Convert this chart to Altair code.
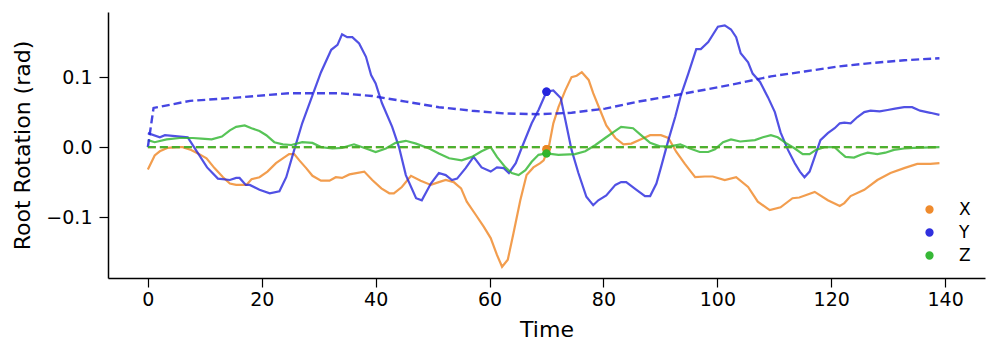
import altair as alt
import pandas as pd

# ---- data ----
series_names = ["X", "Y", "Z"]
series_colors = ["#ef8522", "#2525dd", "#2db52d"]

x_t = [0, 1.2, 2.1, 3.5, 5, 6.1, 7.6, 8.8, 10.3, 11.7, 13.2, 14.4, 15.5, 17.3, 18.2, 19.6, 21, 22.5, 23.7, 24.8,
       25.7, 26.6, 27.8, 28.9, 30.4, 31.9, 33, 34.1, 35.4, 38, 39.4, 41, 42.4, 43.2, 44.6, 46.2, 47.9, 49.7, 51.1,
       52.3, 53.7, 55, 56, 57.6, 59, 60.2, 61.3, 62.2, 63.2, 64.2, 65.4, 66.5, 67.7, 68.9, 69.5, 70.4, 71.2, 72.1,
       73.3, 74.4, 75.3, 76.2, 77.4, 78.2, 79.4, 80.5, 82.1, 83.5, 84.9, 86.5, 88.2, 90.1, 91.4, 92.8, 94.3, 96.1,
       97.8, 99.2, 101.3, 103.3, 105.4, 107.1, 109.2, 111.1, 113.2, 114.4, 117.1, 119.4, 121.5, 122.3, 123.4,
       125.8, 128.1, 130.4, 132.8, 135.1, 137.4, 139]
x_v = [-0.032, -0.012, -0.006, -0.001, 0.000, 0.000, -0.004, -0.009, -0.016, -0.030, -0.043, -0.052, -0.054,
       -0.054, -0.046, -0.043, -0.035, -0.023, -0.016, -0.010, -0.010, -0.019, -0.030, -0.041, -0.048, -0.048,
       -0.043, -0.044, -0.039, -0.035, -0.047, -0.059, -0.066, -0.066, -0.057, -0.041, -0.048, -0.054, -0.050,
       -0.047, -0.050, -0.059, -0.078, -0.097, -0.114, -0.130, -0.154, -0.171, -0.161, -0.123, -0.076, -0.040,
       -0.029, -0.023, -0.019, 0.000, 0.034, 0.057, 0.081, 0.100, 0.102, 0.107, 0.096, 0.077, 0.053, 0.031, 0.013,
       0.004, 0.005, 0.011, 0.017, 0.017, 0.013, -0.007, -0.024, -0.043, -0.042, -0.042, -0.047, -0.043, -0.057,
       -0.078, -0.090, -0.086, -0.073, -0.072, -0.064, -0.076, -0.084, -0.080, -0.070, -0.061, -0.047, -0.037,
       -0.030, -0.024, -0.024, -0.023]

y_t = [0, 2.1, 3, 7, 10.4, 12.3, 14.4, 15.5, 16.1, 17.2, 17.9, 19.6, 21.4, 23.1, 24.3, 25.7, 27.1, 28.9, 30.4,
       32.2, 33.3, 34.1, 35, 35.9, 37.1, 38.3, 39.2, 40, 41.1, 42.9, 44.1, 45.3, 47.1, 48.1, 49.7, 51.1, 52.3,
       53.4, 54.3, 55.8, 57.2, 58.6, 60.2, 61.3, 62.5, 63.4, 64.6, 65.6, 67.4, 68.6, 70, 71.2, 72.5, 73.3, 74.4,
       75.6, 77, 78.2, 79.1, 80.5, 82.1, 83.1, 84, 85.8, 87.3, 88.2, 89.3, 90.1, 91.4, 92.6, 93.6, 94.9, 96.3,
       97.1, 98.4, 100.1, 101.3, 102.4, 103.3, 104.1, 105.4, 106.2, 107.5, 108.9, 110.1, 111.1, 112.4, 113.6,
       114.5, 115.3, 116.2, 117.1, 118.1, 119.4, 120.6, 121.5, 122.3, 123.4, 124.6, 125.8, 126.9, 128.5, 129.9,
       131.2, 132.8, 134.2, 135.6, 137.4, 139]
y_v = [0.020, 0.014, 0.017, 0.014, -0.029, -0.045, -0.047, -0.044, -0.044, -0.054, -0.054, -0.061, -0.066,
       -0.063, -0.043, -0.004, 0.034, 0.074, 0.107, 0.139, 0.146, 0.161, 0.157, 0.157, 0.148, 0.129, 0.103, 0.091,
       0.063, 0.029, 0.000, -0.040, -0.073, -0.076, -0.052, -0.037, -0.040, -0.047, -0.045, -0.030, -0.014,
       -0.029, -0.035, -0.029, -0.030, -0.037, -0.023, -0.002, 0.034, 0.053, 0.079, 0.081, 0.070, 0.039, -0.004,
       -0.037, -0.071, -0.083, -0.076, -0.069, -0.054, -0.050, -0.050, -0.061, -0.070, -0.070, -0.052, -0.029,
       0.010, 0.043, 0.074, 0.105, 0.140, 0.140, 0.150, 0.172, 0.174, 0.168, 0.157, 0.134, 0.121, 0.105, 0.093,
       0.071, 0.050, 0.021, -0.004, -0.023, -0.035, -0.043, -0.035, -0.014, 0.010, 0.020, 0.027, 0.034, 0.035,
       0.034, 0.043, 0.050, 0.052, 0.051, 0.053, 0.055, 0.057, 0.057, 0.052, 0.049, 0.046]

z_t = [0, 1.2, 3.3, 5.6, 7.9, 9.4, 11.2, 13, 14.4, 15.5, 17, 18.2, 19.6, 20.8, 22.2, 23.7, 25.2, 27.1, 28.9,
       30.4, 32.4, 34.1, 36.2, 38.3, 40, 41.8, 43.5, 45.3, 47.1, 49.4, 51.1, 52.9, 55.1, 56.9, 58.6, 60.2, 61.3,
       62.8, 63.9, 65.1, 66.3, 67.4, 68.6, 70, 72.1, 75, 76.8, 78.6, 80.3, 81.7, 83.1, 85.2, 86.6, 88.2, 89.9,
       91.7, 93.5, 95.2, 96.9, 98.4, 99.6, 101, 102.4, 104, 106.6, 108, 109.4, 110.6, 112, 113.6, 115, 116.2,
       117.3, 118.8, 120.6, 121.5, 122.5, 124, 125.2, 126.4, 128.1, 129.5, 131, 132.8, 134.5, 139]
z_v = [0.010, 0.007, 0.011, 0.013, 0.013, 0.012, 0.011, 0.015, 0.024, 0.029, 0.031, 0.027, 0.023, 0.017, 0.007,
       0.004, 0.003, 0.007, 0.006, 0.000, -0.002, -0.001, 0.004, -0.002, -0.007, -0.002, 0.006, 0.009, 0.005,
       -0.002, -0.009, -0.016, -0.019, -0.014, -0.006, 0.000, -0.014, -0.029, -0.037, -0.040, -0.033, -0.021,
       -0.011, -0.009, -0.011, -0.010, -0.006, 0.003, 0.013, 0.021, 0.029, 0.027, 0.017, 0.006, 0.001, 0.001,
       0.004, -0.002, -0.007, -0.007, -0.003, 0.007, 0.011, 0.008, 0.010, 0.014, 0.017, 0.014, 0.006, -0.002,
       -0.010, -0.010, -0.004, 0.000, 0.000, -0.007, -0.014, -0.015, -0.011, -0.008, -0.010, -0.008, -0.004,
       -0.002, -0.001, 0.000]

# dashed reference curves
ref_y_t = [0, 1, 7.4, 16.1, 24.8, 28.9, 33.6, 39.4, 45.3, 51.1, 56.9, 62.8, 68.6, 74.4, 80.3, 86.1, 91.9, 97.8,
           103.6, 109.4, 115.3, 121.1, 126.9, 132.8, 139]
ref_y_v = [0.000, 0.056, 0.066, 0.071, 0.077, 0.077, 0.077, 0.073, 0.065, 0.057, 0.052, 0.048, 0.047, 0.049,
           0.055, 0.065, 0.073, 0.082, 0.091, 0.101, 0.108, 0.115, 0.120, 0.124, 0.127]
ref_x_t = [0, 139]
ref_x_v = [0.0, 0.0]
ref_z_t = [0, 139]
ref_z_v = [0.0, 0.0]

# highlighted markers
marker_t = [70, 70, 70]
marker_v = [-0.003, 0.079, -0.009]

# ---- tables ----
def long(pairs):
    rows = []
    for name, ts, vs in pairs:
        for t, v in zip(ts, vs):
            rows.append({"t": t, "v": v, "series": name})
    return pd.DataFrame(rows)

solid_df = long([("X", x_t, x_v), ("Y", y_t, y_v), ("Z", z_t, z_v)])
ref_df = long([("X", ref_x_t, ref_x_v), ("Y", ref_y_t, ref_y_v), ("Z", ref_z_t, ref_z_v)])
pts_df = pd.DataFrame({"t": marker_t, "v": marker_v, "series": series_names})

FONT = "DejaVu Sans"
cscale = alt.Scale(domain=series_names, range=series_colors)
legend_def = alt.Legend(title=None, orient="none", legendX=813, legendY=189,
                        symbolType="circle", symbolSize=46,
                        labelFontSize=17, labelFont=FONT, labelColor="black",
                        labelOffset=21, rowPadding=5, padding=0)
color_enc = alt.Color("series:N", scale=cscale, legend=legend_def)

x_enc = alt.X("t:Q", scale=alt.Scale(domain=[-7, 147], nice=False, zero=False),
              axis=alt.Axis(values=list(range(0, 141, 20)), title="Time", format="d"))
y_enc = alt.Y("v:Q", scale=alt.Scale(domain=[-0.187, 0.193], nice=False, zero=False),
              axis=alt.Axis(values=[-0.1, 0.0, 0.1], format=".1f", title="Root Rotation (rad)"))

pts = alt.Chart(pts_df).mark_circle(size=70, opacity=0.95).encode(
    x=x_enc, y=y_enc, color=color_enc,
)

lines = alt.Chart(solid_df).mark_line(strokeWidth=2.2, opacity=0.8).encode(
    x=x_enc, y=y_enc, color=color_enc, detail="series:N",
)

refs = alt.Chart(ref_df).mark_line(strokeWidth=2.4, strokeDash=[8, 4], opacity=0.85).encode(
    x=x_enc, y=y_enc, color=color_enc, detail="series:N",
)

chart = alt.layer(pts, lines, refs, pts).properties(
    width=877, height=266,
    autosize=alt.AutoSizeParams(type="none"),
    padding={"left": 100, "top": 4, "right": 4, "bottom": 70},
    background="white",
).configure_view(stroke=None).configure_axis(
    grid=False,
    domainColor="black", domainWidth=1.5,
    tickColor="black", tickWidth=1.2, tickSize=9,
    labelFont=FONT, labelFontSize=19, labelColor="black",
    titleFont=FONT, titleFontSize=22, titleColor="black", titleFontWeight="normal",
).configure_axisX(labelPadding=3, titlePadding=10).configure_axisY(labelPadding=7, titlePadding=11)

chart.save("out.html", embed_options={"renderer": "svg", "actions": False})
